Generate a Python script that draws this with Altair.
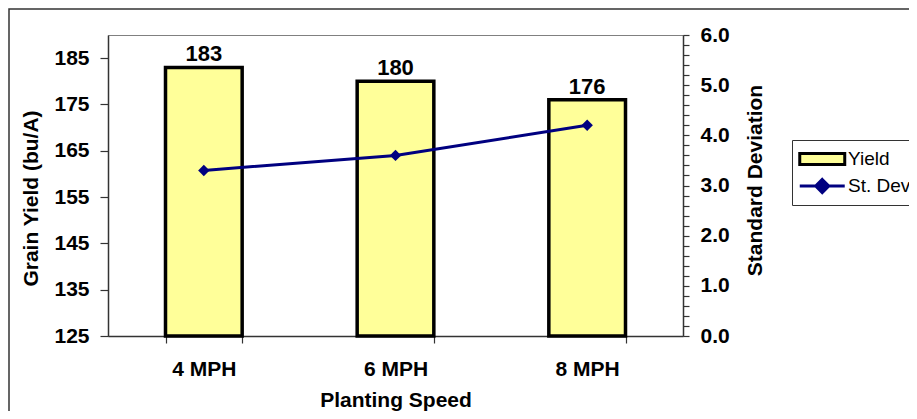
import altair as alt
import pandas as pd

# ---- data ----
speeds = ["4 MPH", "6 MPH", "8 MPH"]
yield_vals = [183, 180, 176]
stdev_vals = [3.3, 3.6, 4.2]
series_names = ["Yield", "St. Dev"]

yield_domain = [125, 190]
yield_ticks = [125, 135, 145, 155, 165, 175, 185]
sd_domain = [0, 6]
sd_ticks = [round(i * 0.2, 1) for i in range(31)]

df = pd.DataFrame({
    "speed": speeds,
    "yield": yield_vals,
    "sd": stdev_vals,
    "series": ["Yield"] * len(speeds),
})

FONT = "Liberation Sans"
BAR_FILL = "#FFFF99"
NAVY = "#000080"
AX = "#333333"

x = alt.X(
    "speed:N", sort=speeds, title="Planting Speed",
    scale=alt.Scale(paddingInner=0.6, paddingOuter=0.3),
    axis=alt.Axis(
        tickBand="extent", labelAngle=0, tickSize=7, labelPadding=15,
        labelFontSize=21, labelFont=FONT, labelFontWeight="bold", labelColor="black",
        titleFontSize=21, titleFont=FONT, titleFontWeight="bold", titleColor="black",
        titleY=53, titleBaseline="top",
        domainColor=AX, tickColor=AX, domainWidth=1.5, tickWidth=1.2, grid=False,
    ),
)

yl = alt.Y(
    "yield:Q",
    scale=alt.Scale(domain=yield_domain, zero=False, nice=False),
    axis=alt.Axis(
        orient="left", values=yield_ticks, title="Grain Yield (bu/A)",
        tickSize=8, labelPadding=11, labelFontSize=21, labelFont=FONT,
        labelFontWeight="bold", labelColor="black",
        titleFontSize=21, titleFont=FONT, titleFontWeight="bold", titleColor="black",
        titleX=-77, titleY=163, titleAngle=270, titleAlign="center", titleBaseline="middle",
        domainColor=AX, tickColor=AX, domainWidth=1.5, tickWidth=1.2, grid=False,
    ),
)

yr = alt.Y(
    "sd:Q",
    scale=alt.Scale(domain=sd_domain, zero=True, nice=False),
    axis=alt.Axis(
        orient="right", values=sd_ticks, title="Standard Deviation",
        labelExpr="abs(datum.value - round(datum.value)) < 0.001 ? format(datum.value, '.1f') : ''",
        tickSize=6, labelPadding=11, labelFontSize=21, labelFont=FONT,
        labelFontWeight="bold", labelColor="black",
        titleFontSize=21, titleFont=FONT, titleFontWeight="bold", titleColor="black",
        titleX=72, titleY=145, titleAngle=270, titleAlign="center", titleBaseline="middle",
        domainColor=AX, tickColor=AX, domainWidth=1.5, tickWidth=1.2, grid=False,
    ),
)

legend = alt.Legend(
    title=None, orient="none", legendX=684, legendY=105,
    symbolType=alt.ExprRef(expr="datum.label == 'Yield' ? 'M-1,-0.5H3V0.5H-1Z' : 'M-1,0H3M1,-0.58L1.58,0L1,0.58L0.42,0Z'"),
    symbolStrokeColor=alt.ExprRef(expr="datum.label == 'Yield' ? '#000000' : '#000080'"),
    symbolSize=506, symbolStrokeWidth=3, symbolOpacity=1,
    labelFontSize=19, labelFont=FONT, labelColor="black", labelOffset=24,
    strokeColor=AX, fillColor="white", padding=6, rowPadding=2,
)

base = alt.Chart(df)
y_base = alt.datum(yield_domain[0])

bars = base.mark_bar().encode(
    x=x, y=yl, y2=y_base,
    color=alt.Color("series:N",
                    scale=alt.Scale(domain=series_names, range=[BAR_FILL, NAVY]),
                    legend=legend),
)
outline = base.mark_bar(filled=False, stroke="black", strokeWidth=3.5).encode(x=x, y=yl, y2=y_base)
labels = base.mark_text(
    dy=-6, baseline="alphabetic", fontSize=22, fontWeight="bold", font=FONT, color="black"
).encode(x=x, y=yl, text="yield:Q")

line = base.mark_line(color=NAVY, strokeWidth=3).encode(x=x, y=yr)
pts = base.mark_point(shape="diamond", filled=True, size=130, color=NAVY, opacity=1).encode(x=x, y=yr)

border = alt.Chart(pd.DataFrame({"a": [0]})).mark_rect(
    filled=False, stroke=AX, strokeWidth=1.5
).encode(x=alt.value(-99), x2=alt.value(900), y=alt.value(-26), y2=alt.value(500))

left = alt.layer(bars, outline, labels)
right = alt.layer(line, pts)

chart = alt.layer(border, left, right).resolve_scale(y="independent").properties(
    width=575, height=301,
    padding={"left": 100, "top": 27, "right": 226, "bottom": 75},
    autosize=alt.AutoSizeParams(type="none"),
).configure_view(stroke="#808080", strokeWidth=1)

chart.save("out.html", embed_options={"renderer": "svg", "actions": False})
